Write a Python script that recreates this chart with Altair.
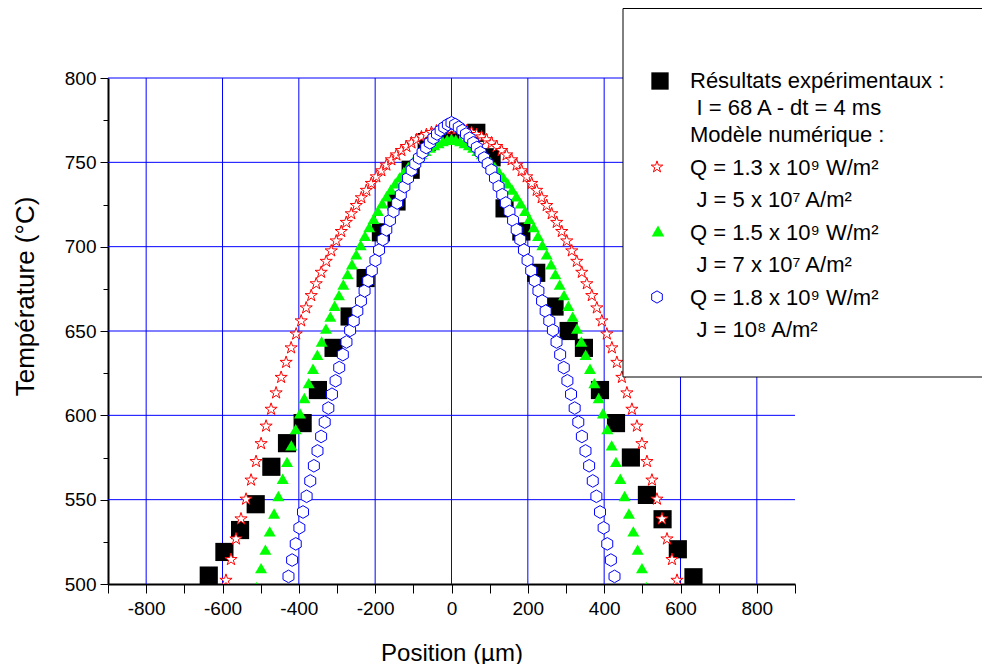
import altair as alt
import pandas as pd

# ---------------- values ----------------
# Experimental points (black squares)
exp_pos = [-636, -595, -554, -513, -472, -431, -390, -350, -309, -267, -225, -185, -144, -107, -65, -3,
           65, 105, 139, 183, 222, 270, 307, 347, 389, 431, 470, 512, 553, 593, 634]
exp_temp = [505.0, 519.0, 532.0, 547.3, 569.5, 583.5, 595.4, 615.0, 640.0, 658.6, 681.4, 708.5, 726.8, 745.6, 762.0, 767.5,
            767.5, 753.0, 722.7, 709.0, 684.5, 664.5, 650.0, 640.0, 615.0, 595.4, 575.0, 552.8, 538.4, 520.6, 504.0]

# Model Q=1.3e9 (red stars) - half profile, symmetric about 0
red_pos = [0, 13.1, 26.3, 39.4, 52.5, 65.7, 78.8, 91.9, 105.0, 118.2, 131.3, 144.4, 157.6, 170.7, 183.8, 197.0,
           210.1, 223.2, 236.3, 249.5, 262.6, 275.7, 288.9, 302.0, 315.1, 328.3, 341.4, 354.5, 367.6, 380.8,
           393.9, 407.0, 420.2, 433.3, 446.4, 459.6, 472.7, 485.8, 498.9, 512.1, 525.2, 538.3, 551.5, 564.6,
           577.7, 590.9]
red_temp = [770.0, 769.8, 769.3, 768.6, 767.7, 766.5, 765.1, 763.4, 761.5, 759.4, 757.0, 754.4, 751.5, 748.4,
            745.0, 741.4, 737.5, 733.4, 729.0, 724.4, 719.5, 714.4, 709.0, 703.4, 697.5, 691.3, 684.8, 678.0,
            671.0, 663.7, 656.0, 648.2, 640.0, 631.4, 622.5, 613.3, 603.6, 593.6, 583.2, 572.6, 561.6, 550.3,
            538.6, 526.7, 514.5, 502.2]

# Model Q=1.5e9 (green triangles)
green_pos = [0, 11.3, 22.7, 34.0, 45.4, 56.7, 68.0, 79.4, 90.7, 102.1, 113.4, 124.7, 136.1, 147.4, 158.8, 170.1,
             181.4, 192.8, 204.1, 215.5, 226.8, 238.1, 249.5, 260.8, 272.2, 283.5, 294.8, 306.2, 317.5, 328.9,
             340.2, 351.5, 362.9, 374.2, 385.6, 396.9, 408.2, 419.6, 430.9, 442.3, 453.6, 464.9, 476.3, 487.6,
             499.0, 510.3]
green_temp = [764.0, 763.4, 762.6, 761.5, 760.2, 758.7, 756.9, 754.9, 752.6, 750.1, 747.3, 744.3, 741.1, 737.6,
              733.9, 729.9, 725.7, 721.2, 716.5, 711.6, 706.4, 701.0, 695.4, 689.6, 683.7, 677.6, 671.3, 665.0,
              658.5, 651.4, 643.8, 635.9, 627.6, 619.1, 610.3, 601.2, 591.8, 582.2, 572.4, 562.4, 552.2, 541.8,
              531.2, 520.4, 509.4, 498.2]

# Model Q=1.8e9 (blue hexagons)
blue_pos = [0, 9.5, 19.0, 28.5, 38.0, 47.5, 56.9, 66.4, 75.9, 85.4, 94.9, 104.4, 113.9, 123.4, 132.9, 142.4,
            151.8, 161.3, 170.8, 180.3, 189.8, 199.3, 208.8, 218.3, 227.8, 237.3, 246.7, 256.2, 265.7, 275.2,
            284.7, 294.2, 303.7, 313.2, 322.7, 332.2, 341.6, 351.1, 360.6, 370.1, 379.6, 389.1, 398.6, 408.1,
            417.6, 427.1]
blue_temp = [773.5, 772.4, 770.8, 768.9, 766.8, 764.3, 761.6, 758.8, 755.8, 752.6, 749.2, 745.4, 740.6, 735.6,
             730.8, 725.9, 720.9, 715.6, 710.0, 704.2, 698.0, 691.9, 685.8, 679.8, 673.8, 667.8, 661.8, 656.0,
             650.4, 643.5, 636.0, 628.3, 620.5, 612.5, 604.3, 596.0, 587.5, 578.9, 570.1, 561.1, 552.0, 542.7,
             533.3, 523.8, 514.2, 504.5]

x_ticks = [-900, -800, -700, -600, -500, -400, -300, -200, -100, 0, 100, 200, 300, 400, 500, 600, 700, 800, 900]
y_ticks = [500, 525, 550, 575, 600, 625, 650, 675, 700, 725, 750, 775, 800]
x_grid = [-800, -600, -400, -200, 0, 200, 400, 600, 800]
y_grid = [550, 600, 650, 700, 750, 800]

legend_lines = [
    "Résultats expérimentaux :",
    "I = 68 A - dt = 4 ms",
    "Modèle numérique :",
    "Q = 1.3 x 10⁹ W/m²",
    "J = 5 x 10⁷ A/m²",
    "Q = 1.5 x 10⁹ W/m²",
    "J = 7 x 10⁷ A/m²",
    "Q = 1.8 x 10⁹ W/m²",
    "J = 10⁸ A/m²",
]
# layout of the legend lines (indent flag, baseline in px from plot top)
legend_layout = [(0, 10.3), (1, 37.0), (0, 63.7), (0, 97.0), (1, 129.3), (0, 162.0), (1, 194.3), (0, 227.0), (1, 259.3)]


def mirror(pos, temp):
    xs = [-p for p in pos[:0:-1]] + list(pos)
    ts = list(temp[:0:-1]) + list(temp)
    return pd.DataFrame({"x": xs, "T": ts})


df_exp = pd.DataFrame({"x": exp_pos, "T": exp_temp})
df_red = mirror(red_pos, red_temp)
df_green = mirror(green_pos, green_temp)
df_blue = mirror(blue_pos, blue_temp)

FONT = "Liberation Sans"
STAR = ("M0,-1L0.2245,-0.309L0.951,-0.309L0.363,0.118L0.588,0.809L0,0.382L-0.588,0.809"
        "L-0.363,0.118L-0.951,-0.309L-0.2245,-0.309Z")
HEX = "M0,-1L0.866,-0.5L0.866,0.5L0,1L-0.866,0.5L-0.866,-0.5Z"

xscale = alt.Scale(domain=[-900, 900], nice=False, zero=False)
yscale = alt.Scale(domain=[500, 800], nice=False, zero=False)

xaxis = alt.Axis(
    values=x_ticks,
    labelExpr="(datum.value % 200 === 0 && abs(datum.value) < 900) ? (datum.value < 0 ? '-' + abs(datum.value) : '' + datum.value) : ''",
    grid=False, tickSize=9, tickColor="black", tickWidth=1,
    domainColor="black", domainWidth=2,
    labelFont=FONT, labelFontSize=19, labelColor="black", labelPadding=6,
    labelFlush=False, labelOverlap=False,
    title="Position (µm)", titleFont=FONT, titleFontSize=24, titleFontWeight="normal",
    titleColor="black", titleBaseline="alphabetic", titleY=76,
)
yaxis = alt.Axis(
    values=y_ticks,
    labelExpr="datum.value % 50 === 0 ? datum.label : ''",
    grid=False, tickSize={"condition": {"test": "datum.value % 50 === 0", "value": 8}, "value": 5},
    tickColor="black", tickWidth=1,
    domainColor="black", domainWidth=2,
    labelFont=FONT, labelFontSize=19, labelColor="black", labelPadding=4,
    labelFlush=False, labelOverlap=False,
    title="Température (°C)", titleFont=FONT, titleFontSize=26, titleFontWeight="normal",
    titleColor="black", titleAngle=270, titleBaseline="middle", titleAlign="center",
    titleX=-83, titleY=218,
)


def X():
    return alt.X("x:Q", scale=xscale, axis=xaxis)


def Y():
    return alt.Y("T:Q", scale=yscale, axis=yaxis)


grid_v = alt.Chart(pd.DataFrame({"x": x_grid})).mark_rule(color="#0000FF", strokeWidth=1).encode(x=X())
grid_h = alt.Chart(pd.DataFrame({"T": y_grid})).mark_rule(color="#0000FF", strokeWidth=1).encode(y=Y())

pts_exp = alt.Chart(df_exp).mark_point(
    shape="square", size=330, filled=True, color="black", opacity=1, clip=True
).encode(x=X(), y=Y())
pts_red = alt.Chart(df_red).mark_point(
    shape=STAR, size=165, filled=True, fill="white", stroke="#FF0000", strokeWidth=1, opacity=1, clip=True
).encode(x=X(), y=Y())
pts_green = alt.Chart(df_green).mark_point(
    shape="triangle-up", size=144, filled=True, fill="#00FF00", strokeWidth=0, opacity=1, clip=True
).encode(x=X(), y=Y())
pts_blue = alt.Chart(df_blue).mark_point(
    shape=HEX, size=160, filled=True, fill="white", stroke="#0000FF", strokeWidth=1, opacity=1, clip=True
).encode(x=X(), y=Y())

one = pd.DataFrame({"a": [0]})

legend_box = alt.Chart(one).mark_rect(fill="white", stroke="black", strokeWidth=1).encode(
    x=alt.value(515), x2=alt.value(900), y=alt.value(-69.5), y2=alt.value(299)
)

sym_layers = [
    alt.Chart(one).mark_point(shape="square", size=300, filled=True, color="black", opacity=1).encode(
        x=alt.value(552), y=alt.value(3)),
    alt.Chart(one).mark_point(shape=STAR, size=150, filled=True, fill="white", stroke="#FF0000",
                              strokeWidth=1, opacity=1).encode(x=alt.value(549), y=alt.value(89)),
    alt.Chart(one).mark_point(shape="triangle-up", size=160, filled=True, fill="#00FF00", strokeWidth=0,
                              opacity=1).encode(x=alt.value(550), y=alt.value(153)),
    alt.Chart(one).mark_point(shape=HEX, size=150, filled=True, fill="white", stroke="#0000FF",
                              strokeWidth=1, opacity=1).encode(x=alt.value(549), y=alt.value(219)),
]

text_layers = []
for txt, (indent, base) in zip(legend_lines, legend_layout):
    text_layers.append(
        alt.Chart(one).mark_text(
            align="left", baseline="alphabetic", font=FONT, fontSize=22, color="black"
        ).encode(x=alt.value(582 + 6.5 * indent), y=alt.value(base), text=alt.value(txt))
    )

chart = alt.layer(
    grid_v, grid_h, pts_exp, pts_red, pts_green, pts_blue, legend_box, *sym_layers, *text_layers
).properties(
    width=687, height=506,
    autosize=alt.AutoSizeParams(type="none"),
    padding={"left": 100, "top": 70, "right": 187, "bottom": 80},
    background="white",
).configure_view(stroke="transparent")

chart.save("out.html", embed_options={"renderer": "svg", "actions": False})
